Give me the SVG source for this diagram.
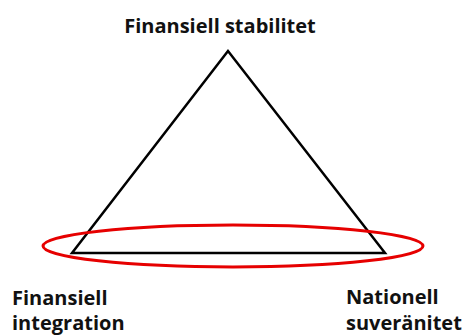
<svg xmlns="http://www.w3.org/2000/svg" width="462" height="336" viewBox="0 0 462 336">
  <style>
    .label { font-family: "Open Sans", "DejaVu Sans", sans-serif; font-weight: bold; font-size: 20px; fill: #111; }
    .edge { fill: none; stroke: #000; stroke-width: 2.5; stroke-linejoin: miter; }
    .ring { fill: none; stroke: #e60000; stroke-width: 3; }
  </style>
  <rect width="462" height="336" fill="#fff"/>
  <g id="connectors">
    <polygon class="edge" points="228,51 72,253 385,253"/>
    <ellipse class="ring" cx="233" cy="246" rx="190" ry="21"/>
  </g>
  <g id="node-stabilitet">
    <text class="label" x="220" y="33" text-anchor="middle">Finansiell stabilitet</text>
  </g>
  <g id="node-integration">
    <text class="label" x="12" y="305">Finansiell</text>
    <text class="label" x="12" y="330">integration</text>
  </g>
  <g id="node-suveranitet">
    <text class="label" x="346" y="304">Nationell</text>
    <text class="label" x="346" y="330">suveränitet</text>
  </g>
</svg>
